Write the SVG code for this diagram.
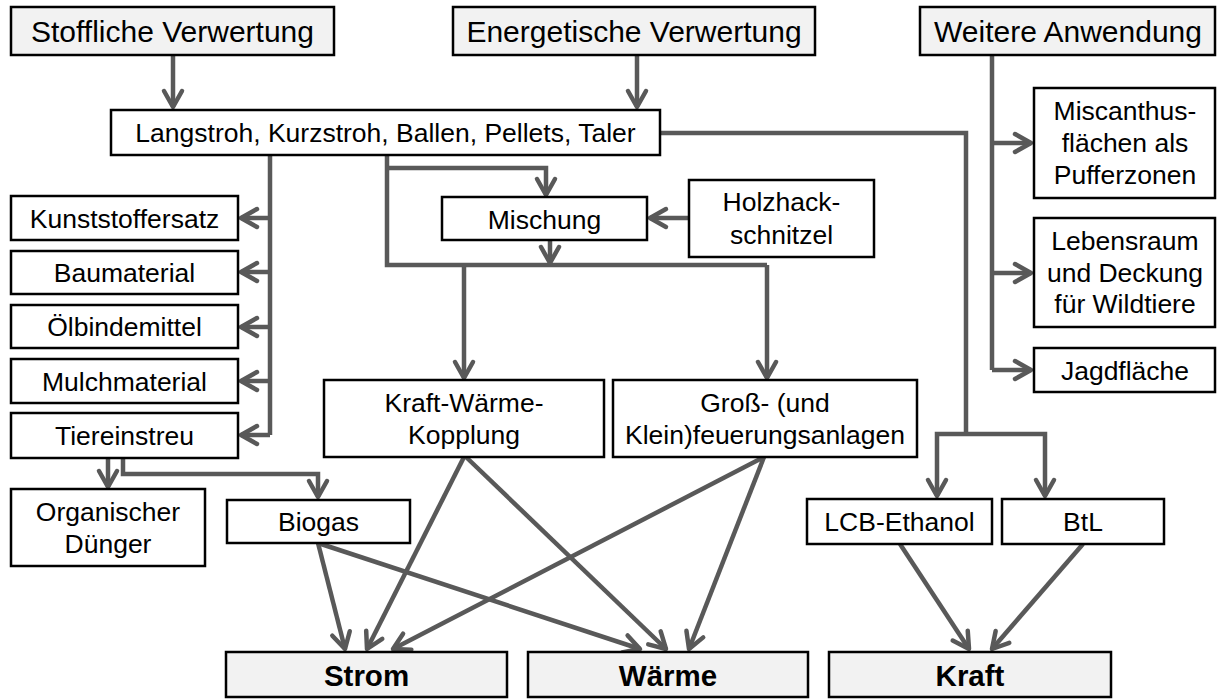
<svg xmlns="http://www.w3.org/2000/svg" width="1217" height="699" viewBox="0 0 1217 699">
<style>
.box{fill:#ffffff;stroke:#000000;stroke-width:2.5}
.hdr{fill:#f2f2f2;stroke:#000000;stroke-width:2.5}
.t{font-family:"Liberation Sans",Arial,sans-serif;font-size:26.5px;fill:#000000;text-anchor:middle}
.h{font-family:"Liberation Sans",Arial,sans-serif;font-size:30px;fill:#000000;text-anchor:middle}
.b{font-family:"Liberation Sans",Arial,sans-serif;font-size:29.5px;font-weight:bold;fill:#000000;text-anchor:middle}
.c{fill:none;stroke:#595959;stroke-width:4.5;stroke-linejoin:miter}
.a{marker-end:url(#ah)}
</style>
<defs>
<marker id="ah" markerUnits="userSpaceOnUse" markerWidth="40" markerHeight="40" refX="0" refY="0" orient="auto" overflow="visible">
<path d="M-16,-9 L0,0 L-16,9" fill="none" stroke="#595959" stroke-width="4.5" stroke-linecap="round" stroke-linejoin="round"/>
</marker>
</defs>
<rect width="1217" height="699" fill="#ffffff"/>

<g id="connectors">
<path class="c a" d="M173,55 V107"/>
<path class="c a" d="M637,55 V107"/>
<path class="c" d="M660,133 H966 V434"/>
<path class="c a" d="M966,434 H937 V496"/>
<path class="c a" d="M966,434 H1045 V496"/>
<path class="c" d="M992,55 V370"/>
<path class="c a" d="M992,143 H1031"/>
<path class="c a" d="M992,273 H1031"/>
<path class="c a" d="M992,370 H1031"/>
<path class="c" d="M270,155 V435"/>
<path class="c a" d="M270,218 H241"/>
<path class="c a" d="M270,272 H241"/>
<path class="c a" d="M270,327 H241"/>
<path class="c a" d="M270,381 H241"/>
<path class="c a" d="M270,435 H241"/>
<path class="c a" d="M108,458 V487"/>
<path class="c a" d="M123,458 V474 H318 V497"/>
<path class="c" d="M387,155 V265 H767"/>
<path class="c a" d="M387,168 H546 V195"/>
<path class="c a" d="M464,265 V378"/>
<path class="c a" d="M767,265 V378"/>
<path class="c a" d="M550,240 V263"/>
<path class="c a" d="M689,218 H650"/>
<path class="c a" d="M464,457 L367,649"/>
<path class="c a" d="M466,457 L666,649"/>
<path class="c a" d="M764,457 L393,649"/>
<path class="c a" d="M764,457 L689,649"/>
<path class="c a" d="M318,543 L345,649"/>
<path class="c a" d="M318,543 L640,649"/>
<path class="c a" d="M900,544 L969,649"/>
<path class="c a" d="M1083,544 L992,649"/>
</g>

<g id="stoffliche"><rect class="hdr" x="11" y="7" width="323" height="48"/><text class="h" x="172.5" y="42">Stoffliche Verwertung</text></g>
<g id="energetische"><rect class="hdr" x="453" y="7" width="362" height="48"/><text class="h" x="634" y="42">Energetische Verwertung</text></g>
<g id="weitere"><rect class="hdr" x="920" y="7" width="295" height="48"/><text class="h" x="1068" y="42">Weitere Anwendung</text></g>

<g id="langstroh"><rect class="box" x="111" y="110" width="549" height="45"/><text class="t" x="385.5" y="142">Langstroh, Kurzstroh, Ballen, Pellets, Taler</text></g>

<g id="kunststoffersatz"><rect class="box" x="11" y="196" width="227" height="44"/><text class="t" x="124.5" y="227.5">Kunststoffersatz</text></g>
<g id="baumaterial"><rect class="box" x="11" y="251" width="227" height="43"/><text class="t" x="124.5" y="282">Baumaterial</text></g>
<g id="oelbindemittel"><rect class="box" x="11" y="305" width="227" height="43"/><text class="t" x="124.5" y="336">Ölbindemittel</text></g>
<g id="mulchmaterial"><rect class="box" x="11" y="359" width="227" height="44"/><text class="t" x="124.5" y="390.5">Mulchmaterial</text></g>
<g id="tiereinstreu"><rect class="box" x="11" y="413" width="227" height="45"/><text class="t" x="124.5" y="445">Tiereinstreu</text></g>
<g id="organischer"><rect class="box" x="11" y="489" width="194" height="77"/><text class="t" x="108" y="521">Organischer</text><text class="t" x="108" y="553">Dünger</text></g>
<g id="biogas"><rect class="box" x="227" y="500" width="183" height="43"/><text class="t" x="318.5" y="531">Biogas</text></g>

<g id="mischung"><rect class="box" x="442" y="197" width="205" height="43"/><text class="t" x="544.5" y="228.5">Mischung</text></g>
<g id="holzhack"><rect class="box" x="689" y="180" width="185" height="77"/><text class="t" x="781.5" y="211">Holzhack-</text><text class="t" x="781.5" y="244">schnitzel</text></g>

<g id="kwk"><rect class="box" x="324" y="380" width="280" height="77"/><text class="t" x="464" y="412">Kraft-Wärme-</text><text class="t" x="464" y="444">Kopplung</text></g>
<g id="gross"><rect class="box" x="613" y="380" width="304" height="77"/><text class="t" x="765" y="412">Groß- (und</text><text class="t" x="765" y="444">Klein)feuerungsanlagen</text></g>

<g id="miscanthus"><rect class="box" x="1034" y="88" width="181" height="110"/><text class="t" x="1125" y="120">Miscanthus-</text><text class="t" x="1125" y="152">flächen als</text><text class="t" x="1125" y="184">Pufferzonen</text></g>
<g id="lebensraum"><rect class="box" x="1034" y="218" width="181" height="109"/><text class="t" x="1125" y="250">Lebensraum</text><text class="t" x="1125" y="282">und Deckung</text><text class="t" x="1125" y="313">für Wildtiere</text></g>
<g id="jagdflaeche"><rect class="box" x="1034" y="348" width="181" height="44"/><text class="t" x="1125" y="379.5">Jagdfläche</text></g>

<g id="lcb"><rect class="box" x="807" y="499" width="185" height="45"/><text class="t" x="899.5" y="531">LCB-Ethanol</text></g>
<g id="btl"><rect class="box" x="1002" y="499" width="162" height="45"/><text class="t" x="1083" y="531">BtL</text></g>

<g id="strom"><rect class="hdr" x="226" y="652" width="281" height="45"/><text class="b" x="366.5" y="686">Strom</text></g>
<g id="waerme"><rect class="hdr" x="528" y="652" width="280" height="45"/><text class="b" x="668" y="686">Wärme</text></g>
<g id="kraft"><rect class="hdr" x="829" y="652" width="282" height="45"/><text class="b" x="970" y="686">Kraft</text></g>
</svg>
